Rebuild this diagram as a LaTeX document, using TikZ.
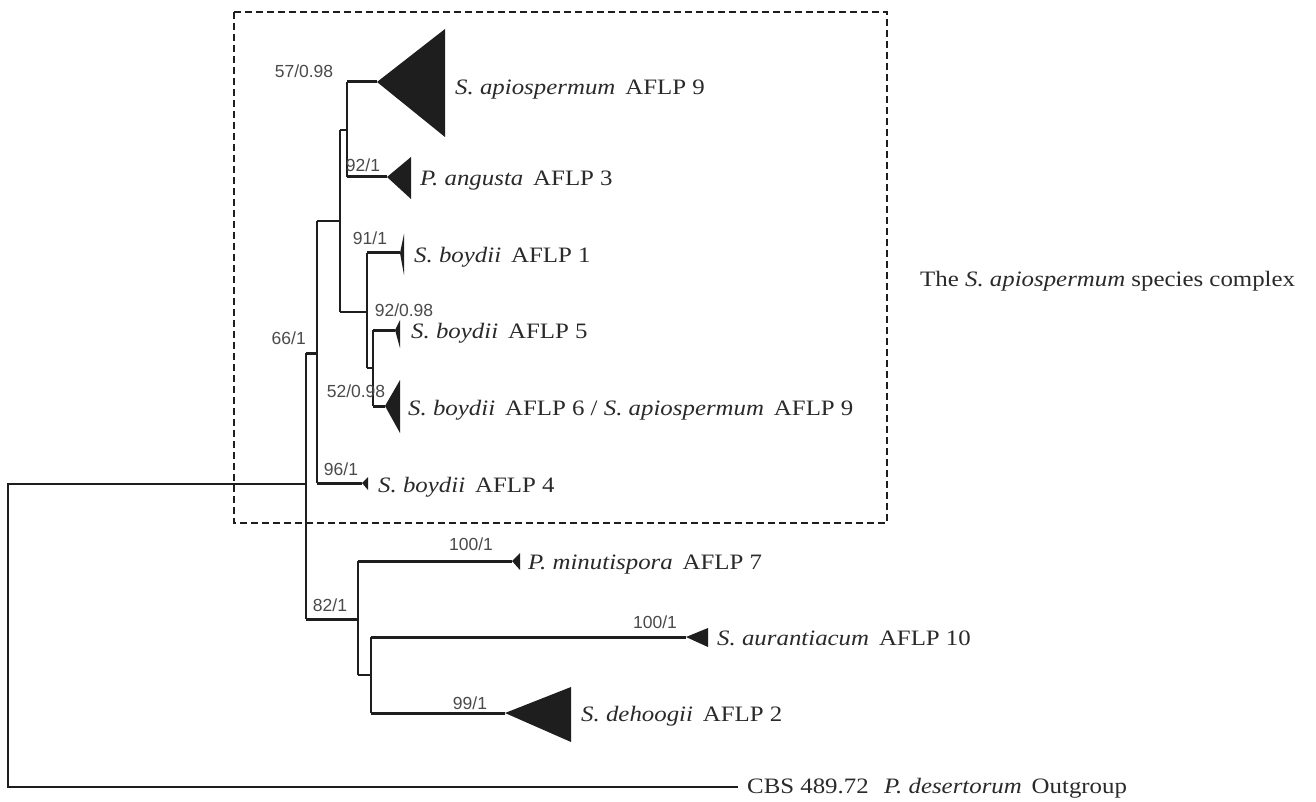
\documentclass[tikz,border=0pt]{standalone}
\usepackage{fontspec}
\setmainfont{Liberation Serif}
\newfontfamily\labfont[FakeStretch=1.13]{Liberation Serif}
\newfontfamily\supfont{Liberation Sans}
\definecolor{linecol}{HTML}{1E1E1E}
\definecolor{labcol}{HTML}{2A2A2A}
\definecolor{supcol}{HTML}{4A4A4A}
\begin{document}
\begin{tikzpicture}[x=1pt,y=-1pt,
  tline/.style={line width=1.3pt, draw=linecol},
  bline/.style={line width=3pt, draw=linecol},
  tri/.style={fill=linecol, draw=none},
  sup/.style={font=\supfont\fontsize{17.5}{20}\selectfont, text=supcol, inner sep=0pt},
  lab/.style={font=\labfont\fontsize{22}{26}\selectfont, text=labcol, inner sep=0pt, anchor=base west},
  boxline/.style={line width=1.2pt, draw=linecol, dash pattern=on 7pt off 4pt}
]
\useasboundingbox[fill=white] (0,0) rectangle (1316,802);

% dashed box of the species complex
\draw[boxline] (234,12) rectangle (887,523);

% coordinates of the tree
\coordinate (R1) at (8,484);  \coordinate (R2) at (8,787);  \coordinate (Out) at (738,787);
\coordinate (A1) at (306,353); \coordinate (A2) at (306,619); \coordinate (Aj) at (306,484);
\coordinate (G1) at (317,221); \coordinate (G2) at (317,483); \coordinate (Gj) at (317,353);
\coordinate (B1) at (340,130); \coordinate (B2) at (340,312); \coordinate (Bj) at (340,221);
\coordinate (C1) at (347,82);  \coordinate (C2) at (347,177); \coordinate (Cj) at (347,130);
\coordinate (D1) at (367,253); \coordinate (D2) at (367,368); \coordinate (Dj) at (367,312);
\coordinate (E1) at (373,330); \coordinate (E2) at (373,406); \coordinate (Ej) at (373,368);
\coordinate (H1) at (358,561); \coordinate (H2) at (358,675); \coordinate (Hj) at (358,619);
\coordinate (F1) at (371,637); \coordinate (F2) at (371,713); \coordinate (Fj) at (371,675);
% tips (apex, upper corner, lower corner)
\coordinate (T1) at (377,82);  \coordinate (T1a) at (445,29);  \coordinate (T1b) at (445,137);
\coordinate (T2) at (387,177); \coordinate (T2a) at (411,157); \coordinate (T2b) at (411,199);
\coordinate (T3) at (400,253); \coordinate (T3a) at (404,234); \coordinate (T3b) at (404,275);
\coordinate (T4) at (395,330); \coordinate (T4a) at (400,320); \coordinate (T4b) at (400,348);
\coordinate (T5) at (385,406); \coordinate (T5a) at (400,380); \coordinate (T5b) at (400,433);
\coordinate (T6) at (362,483); \coordinate (T6a) at (368,477); \coordinate (T6b) at (368,490);
\coordinate (T7) at (512,561); \coordinate (T7a) at (520,553); \coordinate (T7b) at (520,570);
\coordinate (T8) at (686,637); \coordinate (T8a) at (708,628); \coordinate (T8b) at (708,647);
\coordinate (T9) at (505,713); \coordinate (T9a) at (571,687); \coordinate (T9b) at (571,742);

% thin branches
\draw[tline] (Aj) -- (R1) -- (R2) -- (Out);
\draw[tline] (A1) -- (A2);
\draw[tline] (G1) -- (G2);
\draw[tline] (G1) -- (Bj);
\draw[tline] (B1) -- (B2);
\draw[tline] (B1) -- (Cj);
\draw[tline] (C1) -- (C2);
\draw[tline] (B2) -- (Dj);
\draw[tline] (D1) -- (D2);
\draw[tline] (D2) -- (Ej);
\draw[tline] (E1) -- (E2);
\draw[tline] (H1) -- (H2);
\draw[tline] (H2) -- (Fj);
\draw[tline] (F1) -- (F2);

% bold branches
\draw[bline] (A1) -- (Gj);
\draw[bline] (A2) -- (Hj);
\draw[bline] (C1) -- (T1);
\draw[bline] (C2) -- (T2);
\draw[bline] (D1) -- (T3);
\draw[bline] (E1) -- (T4);
\draw[bline] (E2) -- (T5);
\draw[bline] (G2) -- (T6);
\draw[bline] (H1) -- (T7);
\draw[bline] (F1) -- (T8);
\draw[bline] (F2) -- (T9);

% collapsed clades
\fill[tri] (T1) -- (T1a) -- (T1b) -- cycle;
\fill[tri] (T2) -- (T2a) -- (T2b) -- cycle;
\fill[tri] (T3) -- (T3a) -- (T3b) -- cycle;
\fill[tri] (T4) -- (T4a) -- (T4b) -- cycle;
\fill[tri] (T5) -- (T5a) -- (T5b) -- cycle;
\fill[tri] (T6) -- (T6a) -- (T6b) -- cycle;
\fill[tri] (T7) -- (T7a) -- (T7b) -- cycle;
\fill[tri] (T8) -- (T8a) -- (T8b) -- cycle;
\fill[tri] (T9) -- (T9a) -- (T9b) -- cycle;

% support values
\node[sup] (s1) at (304,71) {57/0.98};
\node[sup] (s2) at (363,165) {92/1};
\node[sup] (s3) at (370,238) {91/1};
\node[sup] (s4) at (404,310) {92/0.98};
\node[sup] (s5) at (356,391) {52/0.98};
\node[sup] (s6) at (341,469) {96/1};
\node[sup, anchor=east] (s7) at (306,338) {66/1};
\node[sup] (s8) at (330,605) {82/1};
\node[sup] (s9) at (471,544) {100/1};
\node[sup] (s10) at (655,622) {100/1};
\node[sup] (s11) at (470,703) {99/1};

% taxon labels
\node[lab] (l1) at (455,95) {\textit{S. apiospermum}\hspace{0.45em}AFLP 9};
\node[lab] (l2) at (420,186) {\textit{P. angusta}\hspace{0.45em}AFLP 3};
\node[lab] (l3) at (414,262) {\textit{S. boydii}\hspace{0.45em}AFLP 1};
\node[lab] (l4) at (411,338) {\textit{S. boydii}\hspace{0.45em}AFLP 5};
\node[lab] (l5) at (408,415) {\textit{S. boydii}\hspace{0.45em}AFLP 6 / \textit{S. apiospermum}\hspace{0.45em}AFLP 9};
\node[lab] (l6) at (378,492) {\textit{S. boydii}\hspace{0.45em}AFLP 4};
\node[lab] (l7) at (528,569) {\textit{P. minutispora}\hspace{0.45em}AFLP 7};
\node[lab] (l8) at (717,645) {\textit{S. aurantiacum}\hspace{0.45em}AFLP 10};
\node[lab] (l9) at (581,721) {\textit{S. dehoogii}\hspace{0.45em}AFLP 2};
\node[lab] (l10) at (747,793) {CBS 489.72\hspace{0.7em}\textit{P. desertorum}\hspace{0.45em}Outgroup};
\node[lab] (l11) at (920,287) {The \textit{S. apiospermum} species complex};
\end{tikzpicture}
\end{document}
